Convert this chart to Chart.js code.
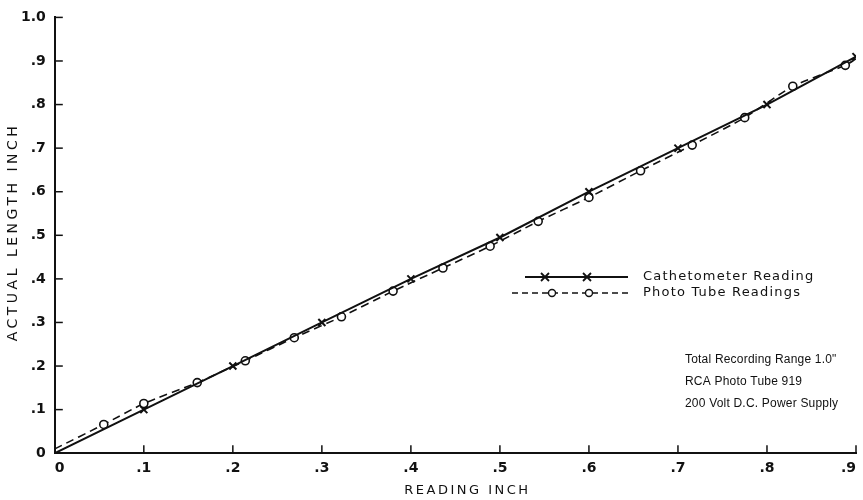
<!DOCTYPE html>
<html>
<head>
<meta charset="utf-8">
<script src="https://cdn.jsdelivr.net/npm/chart.js@4.4.0/dist/chart.umd.min.js"></script>
<style>
  html, body { margin: 0; padding: 0; background: #fff; }
  #wrap { width: 863px; height: 500px; position: relative; }
</style>
</head>
<body>
<div id="wrap"><canvas id="chart"></canvas></div>
<script>
// datos
const cathX = [0, 0.1, 0.2, 0.3, 0.4, 0.5, 0.6, 0.7, 0.8, 0.9];
const cathY = [0, 0.1, 0.2, 0.3, 0.4, 0.495, 0.6, 0.70, 0.80, 0.91];
const tubeX = [0, 0.055, 0.10, 0.16, 0.214, 0.269, 0.322, 0.38, 0.436, 0.489, 0.543, 0.600, 0.658, 0.716, 0.775, 0.829, 0.888, 0.9];
const tubeY = [0.01, 0.066, 0.114, 0.162, 0.212, 0.265, 0.313, 0.372, 0.425, 0.475, 0.532, 0.587, 0.648, 0.707, 0.77, 0.842, 0.89, 0.905];
const xTickLabels = ['0', '.1', '.2', '.3', '.4', '.5', '.6', '.7', '.8', '.9'];
const yTickLabels = ['0', '.1', '.2', '.3', '.4', '.5', '.6', '.7', '.8', '.9', '1.0'];
const legendLabels = ['Cathetometer Reading', 'Photo Tube Readings'];
const noteLines = ['Total Recording Range 1.0"', 'RCA Photo Tube 919', '200 Volt D.C. Power Supply'];
const xTitle = 'READING INCH';
const yTitle = 'ACTUAL LENGTH INCH';

const FONT = '"DejaVu Sans", sans-serif';
const INK = '#111';

function toPoints(xs, ys) {
    return xs.map((x, i) => ({ x: x, y: ys[i] }));
}

// marcas de escala hacia adentro, titulos, leyenda y notas
const paperPlugin = {
    id: 'paper',
    afterDraw(chart) {
        const ctx = chart.ctx;
        const xs = chart.scales.x, ys = chart.scales.y;
        const area = chart.chartArea;
        ctx.save();
        ctx.strokeStyle = INK;
        ctx.lineWidth = 1.5;
        xs.ticks.forEach((t, i) => {
            if (i === 0) return;
            const px = xs.getPixelForTick(i);
            ctx.beginPath();
            ctx.moveTo(px, area.bottom);
            ctx.lineTo(px, area.bottom - 8);
            ctx.stroke();
        });
        ys.ticks.forEach((t, i) => {
            if (i === 0) return;
            const py = ys.getPixelForTick(i);
            ctx.beginPath();
            ctx.moveTo(area.left, py);
            ctx.lineTo(area.left + 8, py);
            ctx.stroke();
        });

        // titulos de ejes
        ctx.fillStyle = INK;
        ctx.textAlign = 'center';
        ctx.textBaseline = 'middle';
        ctx.font = '13px ' + FONT;
        ctx.letterSpacing = '2.5px';
        ctx.fillText(xTitle, (area.left + area.right) / 2 + 12, 491);
        ctx.save();
        ctx.translate(13, 232);
        ctx.rotate(-Math.PI / 2);
        ctx.font = '14px ' + FONT;
        ctx.letterSpacing = '3.5px';
        ctx.fillText(yTitle, 0, 0);
        ctx.restore();

        // leyenda
        ctx.textAlign = 'left';
        ctx.font = '13px ' + FONT;
        ctx.letterSpacing = '1.2px';
        ctx.lineWidth = 1.8;
        ctx.beginPath();
        ctx.moveTo(525, 277); ctx.lineTo(628, 277);
        ctx.stroke();
        [545, 587].forEach(cx => {
            ctx.beginPath();
            ctx.moveTo(cx - 4, 273); ctx.lineTo(cx + 4, 281);
            ctx.moveTo(cx + 4, 273); ctx.lineTo(cx - 4, 281);
            ctx.stroke();
        });
        ctx.fillText(legendLabels[0], 643, 277);

        ctx.lineWidth = 1.4;
        ctx.setLineDash([6, 4]);
        ctx.beginPath();
        ctx.moveTo(512, 293); ctx.lineTo(628, 293);
        ctx.stroke();
        ctx.setLineDash([]);
        [552, 589].forEach(cx => {
            ctx.beginPath();
            ctx.fillStyle = '#fff';
            ctx.arc(cx, 293, 3.5, 0, Math.PI * 2);
            ctx.fill();
            ctx.stroke();
        });
        ctx.fillStyle = INK;
        ctx.fillText(legendLabels[1], 643, 293);

        // notas
        ctx.font = '12px "Liberation Sans", sans-serif';
        ctx.letterSpacing = '0.2px';
        noteLines.forEach((line, i) => {
            ctx.fillText(line, 685, 360 + i * 22);
        });
        ctx.restore();
    }
};

const ctx = document.getElementById('chart').getContext('2d');
new Chart(ctx, {
    type: 'scatter',
    data: {
        datasets: [
            {
                label: legendLabels[0],
                data: toPoints(cathX, cathY),
                showLine: true,
                borderColor: INK,
                borderWidth: 2,
                pointStyle: 'crossRot',
                pointRadius: cathX.map((x, i) => i === 0 ? 0 : 5),
                pointBorderWidth: 2,
                pointBorderColor: INK,
                tension: 0
            },
            {
                label: legendLabels[1],
                data: toPoints(tubeX, tubeY),
                showLine: true,
                borderColor: INK,
                borderWidth: 1.6,
                borderDash: [8, 5],
                pointStyle: 'circle',
                pointRadius: tubeX.map((x, i) => (i === 0 || i === tubeX.length - 1) ? 0 : 4),
                pointBackgroundColor: '#fff',
                pointBorderColor: INK,
                pointBorderWidth: 1.6,
                tension: 0.2
            }
        ]
    },
    options: {
        responsive: true,
        maintainAspectRatio: false,
        animation: false,
        layout: { padding: { top: 8, right: 5, left: 12, bottom: 16 } },
        plugins: {
            legend: { display: false },
            tooltip: { enabled: false }
        },
        scales: {
            x: {
                type: 'linear',
                min: 0,
                max: 0.9,
                grid: { display: false, drawTicks: false },
                border: { display: true, color: INK, width: 2 },
                ticks: {
                    stepSize: 0.1,
                    padding: 7,
                    align: 'inner',
                    color: INK,
                    font: { family: FONT, size: 14, weight: 'bold' },
                    callback: (v) => xTickLabels[Math.round(v * 10)]
                }
            },
            y: {
                type: 'linear',
                min: 0,
                max: 1.0,
                grid: { display: false, drawTicks: false },
                border: { display: true, color: INK, width: 2 },
                ticks: {
                    stepSize: 0.1,
                    padding: 9,
                    color: INK,
                    font: { family: FONT, size: 14, weight: 'bold' },
                    callback: (v) => yTickLabels[Math.round(v * 10)]
                }
            }
        }
    },
    plugins: [paperPlugin]
});
</script>
</body>
</html>
